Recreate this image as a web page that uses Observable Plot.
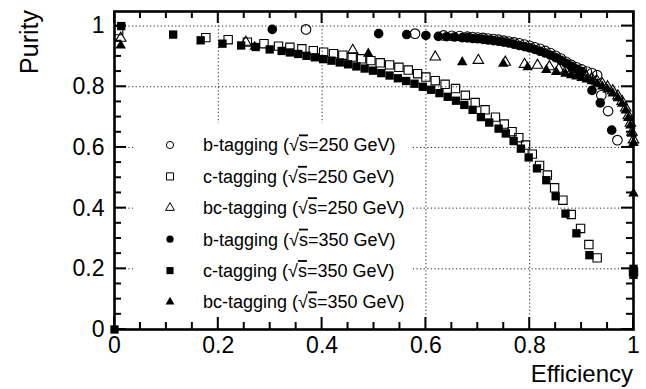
<!DOCTYPE html>
<html><head><meta charset="utf-8">
<script src="https://cdn.jsdelivr.net/npm/d3@7"></script>
<script src="https://cdn.jsdelivr.net/npm/@observablehq/plot@0.6"></script>
<style>body{margin:0;background:#fff} svg{display:block}</style>
</head><body><div id="chart"></div>
<script>
// ---- data (efficiency, purity) ----
const seriesLabels = ["b-tagging", "c-tagging", "bc-tagging", "b-tagging", "c-tagging", "bc-tagging"];
const seriesEnergies = ["250", "250", "250", "350", "350", "350"];
const seriesSymbols = ["circle", "square", "triangle", "circle", "square", "triangle"];
const seriesFilled = [false, false, false, true, true, true];

const b250 = [[0.369,0.989],[0.579,0.975],[0.634,0.969],[0.650,0.968],[0.665,0.967],[0.68,0.965],[0.69,0.964],[0.70,0.962],[0.71,0.961],[0.72,0.959],[0.73,0.957],[0.74,0.955],[0.75,0.952],[0.76,0.949],[0.77,0.946],[0.78,0.943],[0.79,0.939],[0.80,0.935],[0.81,0.930],[0.82,0.925],[0.83,0.918],[0.84,0.911],[0.85,0.902],[0.86,0.893],[0.87,0.882],[0.88,0.872],[0.89,0.864],[0.90,0.857],[0.91,0.850],[0.92,0.845],[0.93,0.838],[0.938,0.772],[0.951,0.720],[0.969,0.624]];
const c250 = [[0.008,0.985],[0.176,0.962],[0.219,0.955],[0.256,0.947],[0.288,0.942],[0.316,0.934],[0.338,0.930],[0.361,0.925],[0.383,0.919],[0.403,0.914],[0.422,0.909],[0.440,0.904],[0.458,0.898],[0.476,0.892],[0.494,0.886],[0.512,0.879],[0.530,0.872],[0.548,0.864],[0.566,0.855],[0.584,0.843],[0.600,0.832],[0.618,0.820],[0.637,0.808],[0.657,0.794],[0.676,0.772],[0.695,0.748],[0.714,0.724],[0.734,0.700],[0.751,0.677],[0.766,0.652],[0.779,0.632],[0.792,0.608],[0.805,0.578],[0.819,0.541],[0.834,0.509],[0.848,0.467],[0.864,0.426],[0.880,0.379],[0.898,0.333],[0.914,0.280],[0.930,0.236],[1.0,0.19]];
const bc250 = [[0.012,0.960],[0.253,0.947],[0.459,0.920],[0.618,0.898],[0.701,0.887],[0.753,0.881],[0.790,0.874],[0.815,0.871],[0.838,0.866],[0.856,0.858],[0.87,0.852],[0.88,0.848],[0.89,0.843],[0.90,0.838],[0.91,0.832],[0.92,0.826],[0.93,0.818],[0.94,0.810],[0.95,0.800],[0.96,0.787],[0.97,0.770],[0.978,0.752],[0.985,0.730],[0.99,0.705],[0.994,0.68],[0.997,0.65],[1.0,0.625]];
const b350 = [[0.304,0.989],[0.509,0.975],[0.563,0.972],[0.600,0.969],[0.624,0.966],[0.640,0.965],[0.655,0.964],[0.67,0.962],[0.68,0.961],[0.69,0.959],[0.70,0.958],[0.71,0.956],[0.72,0.954],[0.73,0.952],[0.74,0.950],[0.75,0.947],[0.76,0.944],[0.77,0.940],[0.78,0.936],[0.79,0.932],[0.80,0.928],[0.81,0.923],[0.82,0.917],[0.83,0.911],[0.84,0.904],[0.85,0.896],[0.86,0.887],[0.87,0.877],[0.88,0.867],[0.89,0.858],[0.90,0.850],[0.920,0.788],[0.936,0.747],[0.958,0.657]];
const c350 = [[0,0],[0.013,1.0],[0.113,0.972],[0.166,0.953],[0.208,0.942],[0.244,0.936],[0.272,0.931],[0.299,0.923],[0.322,0.918],[0.338,0.913],[0.354,0.908],[0.370,0.902],[0.386,0.897],[0.402,0.891],[0.418,0.886],[0.434,0.880],[0.450,0.874],[0.466,0.867],[0.482,0.860],[0.498,0.853],[0.514,0.845],[0.530,0.837],[0.546,0.828],[0.562,0.819],[0.578,0.810],[0.594,0.800],[0.610,0.790],[0.626,0.779],[0.642,0.767],[0.658,0.754],[0.674,0.740],[0.690,0.724],[0.706,0.700],[0.722,0.682],[0.740,0.662],[0.754,0.646],[0.769,0.621],[0.783,0.596],[0.798,0.567],[0.814,0.531],[0.832,0.492],[0.850,0.439],[0.869,0.382],[0.890,0.317],[0.915,0.245],[1.0,0.20],[1.0,0.18]];
const bc350 = [[0.012,0.936],[0.270,0.932],[0.489,0.909],[0.670,0.881],[0.749,0.876],[0.796,0.864],[0.832,0.855],[0.851,0.849],[0.869,0.843],[0.88,0.838],[0.89,0.834],[0.90,0.829],[0.91,0.824],[0.92,0.818],[0.93,0.810],[0.94,0.801],[0.95,0.791],[0.96,0.778],[0.97,0.762],[0.978,0.744],[0.985,0.722],[0.99,0.697],[0.994,0.672],[0.997,0.645],[1.0,0.615],[1.0,0.448]];
const seriesData = [b250, c250, bc250, b350, c350, bc350];

const majorTicks = [0, 0.2, 0.4, 0.6, 0.8, 1];
const minorTicks = [0.05,0.1,0.15,0.25,0.3,0.35,0.45,0.5,0.55,0.65,0.7,0.75,0.85,0.9,0.95];
const xGrid = [0.2, 0.4, 0.6, 0.8];
const yGrid = [0.2, 0.4, 0.6, 0.8, 1];
const xTitle = "Efficiency";
const yTitle = "Purity";

const font = "'Liberation Sans', Arial, Helvetica, sans-serif";
const symR = {circle: 4.8, square: 4.7, triangle: 3.9};

const dotMarks = seriesData.map((data, i) => Plot.dot(data, {
  x: d => d[0], y: d => d[1],
  symbol: seriesSymbols[i], r: symR[seriesSymbols[i]],
  fill: seriesFilled[i] ? "black" : "none",
  stroke: seriesFilled[i] ? "none" : "black",
  strokeWidth: 1.1
}));

const chart = Plot.plot({
  width: 646, height: 389,
  marginLeft: 114, marginRight: 13, marginTop: 11, marginBottom: 60,
  style: {fontFamily: font, background: "white", color: "black"},
  x: {domain: [0, 1]},
  y: {domain: [0, 1.048]},
  marks: [
    Plot.gridX(xGrid, {stroke: "black", strokeOpacity: 0.85, strokeDasharray: "1.2,2.4", strokeWidth: 1}),
    Plot.gridY(yGrid, {stroke: "black", strokeOpacity: 0.85, strokeDasharray: "1.2,2.4", strokeWidth: 1}),
    Plot.axisX(majorTicks, {anchor: "bottom", tickSize: 0, tickPadding: 7, fontSize: 23, tickFormat: d => String(d), label: null}),
    Plot.axisY(majorTicks, {anchor: "left", tickSize: 0, tickPadding: 10, fontSize: 23, tickFormat: d => String(d), label: null}),
    Plot.frame({stroke: "black", strokeWidth: 2.6}),
    ...dotMarks
  ]
});

const svg = d3.select(chart);
const xs = chart.scale("x"), ys = chart.scale("y");
const X0 = xs.apply(0), X1 = xs.apply(1);
const [Ylo, Yhi] = ys.range;
const yBottom = Math.max(Ylo, Yhi), yTop = Math.min(Ylo, Yhi);

// legend background (covers grid only)
const lg = {x0: 133, y0: 123, x1: 412, y1: 326, symX: 170, textX: 203, rowY: 145, rowStep: 31.4};
const bg = d3.create("svg:rect").attr("x", lg.x0).attr("y", lg.y0)
  .attr("width", lg.x1 - lg.x0).attr("height", lg.y1 - lg.y0).attr("fill", "white").node();
const yGridNode = svg.select('g[aria-label="y-grid"]').node();
yGridNode.parentNode.insertBefore(bg, yGridNode.nextSibling);

// inward ticks on all four sides
const tg = svg.append("g").attr("stroke", "black").attr("stroke-width", 2);
const tickSets = [[majorTicks, 12], [minorTicks, 7]];
tickSets.forEach(([vals, len]) => {
  vals.forEach(v => {
    const px = xs.apply(v);
    tg.append("line").attr("x1", px).attr("x2", px).attr("y1", yBottom).attr("y2", yBottom - len);
    tg.append("line").attr("x1", px).attr("x2", px).attr("y1", yTop).attr("y2", yTop + len);
    const py = ys.apply(v);
    tg.append("line").attr("y1", py).attr("y2", py).attr("x1", X0).attr("x2", X0 + len);
    tg.append("line").attr("y1", py).attr("y2", py).attr("x1", X1).attr("x2", X1 - len);
  });
});

// axis titles
svg.append("text").attr("x", 633).attr("y", 382).attr("text-anchor", "end")
  .attr("font-size", 24).attr("font-family", font).attr("fill", "black").text(xTitle);
svg.append("text").attr("transform", "translate(38,10) rotate(-90)").attr("text-anchor", "end")
  .attr("font-size", 25).attr("font-family", font).attr("fill", "black").text(yTitle);

const leg = svg.append("g").attr("font-family", font).attr("font-size", 18).attr("text-anchor", "start");
const symMap = {circle: d3.symbolCircle, square: d3.symbolSquare, triangle: d3.symbolTriangle};
const legR = {circle: 3.6, square: 4.0, triangle: 3.3};
seriesLabels.forEach((lab, i) => {
  const cy = lg.rowY + i * lg.rowStep;
  const r = legR[seriesSymbols[i]];
  leg.append("path")
    .attr("d", d3.symbol(symMap[seriesSymbols[i]], Math.PI * r * r)())
    .attr("transform", `translate(${lg.symX},${cy})`)
    .attr("fill", seriesFilled[i] ? "black" : "none")
    .attr("stroke", seriesFilled[i] ? "none" : "black").attr("stroke-width", 1);
  const t = leg.append("text").attr("x", lg.textX).attr("y", cy).attr("dy", "0.36em").attr("fill", "black");
  t.append("tspan").text(lab + " (√");
  t.append("tspan").style("text-decoration", "overline").text("s");
  t.append("tspan").text("=" + seriesEnergies[i] + " GeV)");
});

document.getElementById("chart").appendChild(chart);
</script>
</body></html>
